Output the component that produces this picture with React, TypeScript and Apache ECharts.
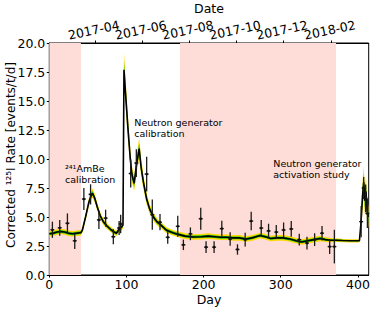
import React, { useEffect, useRef } from "react";
import * as echarts from "echarts";

// Model curve (day, rate, 1-sigma band half-width)
const modelDay = [0, 5, 10, 15, 20, 25, 30, 35, 41, 43, 47, 51, 54, 56, 59, 62, 66, 70, 75, 80, 84, 87, 90, 92, 94.5, 95.5, 96.8, 99, 102, 105, 107, 110, 113, 116.5, 119, 122, 126, 130, 135, 140, 143, 152, 160, 167, 176, 186, 197, 206, 214, 222, 230, 238, 246, 255, 263, 268, 273, 280, 287, 295, 303, 312, 320, 327, 335, 343, 351, 358, 364, 372, 380, 390, 402, 404, 406, 407.5, 409, 410.5, 412, 413.5];
const modelRate = [3.55, 3.6, 3.7, 3.75, 3.7, 3.6, 3.55, 3.6, 3.65, 3.9, 5.0, 6.2, 6.8, 7.05, 6.6, 5.9, 5.1, 4.6, 4.2, 3.9, 3.7, 3.6, 3.9, 4.05, 4.2, 4.3, 17.7, 15.5, 12.6, 10.0, 8.7, 7.9, 9.5, 10.9, 9.3, 8.0, 6.6, 5.7, 5.0, 4.55, 4.4, 3.85, 3.65, 3.5, 3.35, 3.28, 3.3, 3.35, 3.3, 3.25, 3.25, 3.2, 3.2, 3.1, 3.2, 3.3, 3.4, 3.3, 3.15, 3.2, 3.2, 3.1, 2.95, 2.85, 2.95, 3.05, 3.15, 3.05, 3.0, 3.0, 2.97, 2.95, 2.95, 4.5, 6.8, 8.0, 6.4, 7.2, 5.5, 5.0];
const modelSigma = [0.12, 0.12, 0.12, 0.12, 0.12, 0.12, 0.12, 0.12, 0.12, 0.13, 0.15, 0.18, 0.2, 0.2, 0.19, 0.17, 0.15, 0.14, 0.13, 0.12, 0.12, 0.12, 0.13, 0.14, 0.14, 0.16, 0.75, 0.6, 0.5, 0.4, 0.35, 0.32, 0.38, 0.45, 0.38, 0.3, 0.25, 0.2, 0.17, 0.15, 0.14, 0.13, 0.12, 0.12, 0.12, 0.12, 0.12, 0.12, 0.12, 0.12, 0.12, 0.12, 0.12, 0.12, 0.12, 0.12, 0.12, 0.12, 0.12, 0.12, 0.12, 0.12, 0.12, 0.12, 0.12, 0.12, 0.12, 0.1, 0.09, 0.08, 0.07, 0.07, 0.07, 0.3, 0.6, 0.7, 0.6, 0.65, 0.5, 0.45];

// Measured points: day, rate, error
const pointDay = [4, 13.5, 23.5, 33, 44.8, 53.5, 64.3, 73, 83, 90.5, 92.5, 105.5, 112.8, 126.2, 133.5, 143.5, 153.5, 166.5, 173.8, 182.9, 196.3, 203.2, 213.6, 223.6, 234.4, 243.9, 253.9, 261.7, 274.7, 284.2, 294.2, 303.7, 313.6, 324, 334, 343.9, 353.5, 363.4, 369.5, 404.2, 407.5, 410, 412.3];
const pointRate = [3.9, 4.07, 4.46, 2.95, 6.55, 6.95, 4.75, 4.9, 3.3, 4.05, 4.4, 8.75, 9.65, 8.7, 5.2, 4.55, 3.25, 4.2, 2.6, 3.55, 4.85, 2.4, 2.4, 4.0, 3.1, 2.2, 3.05, 4.65, 4.05, 3.8, 3.7, 3.88, 3.97, 3.05, 2.75, 3.05, 3.6, 2.45, 2.45, 4.6, 7.5, 6.6, 5.3];
const pointErr = [0.7, 0.68, 0.85, 0.7, 0.95, 0.87, 0.78, 0.73, 0.65, 0.6, 0.8, 1.2, 1.2, 1.5, 1.3, 0.7, 0.55, 0.9, 0.45, 0.55, 0.95, 0.5, 0.5, 0.68, 0.58, 0.45, 0.6, 0.8, 0.7, 0.62, 0.6, 0.65, 0.68, 0.5, 0.55, 0.55, 0.63, 0.65, 1.45, 1.35, 0.95, 1.2, 1.25];

// Shaded calibration periods (days)
const shadedRanges = [[0, 41], [169.5, 371.7]];

// Axis ticks
const dayTicks = [0, 100, 200, 300, 400];
const dateTickDays = [59, 120, 181, 242, 303, 365];
const dateLabels = ["2017-04", "2017-06", "2017-08", "2017-10", "2017-12", "2018-02"];

const FONT = "DejaVu Sans";

export default function App() {
  const ref = useRef<HTMLDivElement>(null);
  useEffect(() => {
    if (!ref.current) return;
    const chart = echarts.init(ref.current, null, { renderer: "svg" });

    const bandPoly = (k: number) => (params: any, api: any) => {
      if (params.dataIndex !== 0) return null;
      const upper: number[][] = [];
      const lower: number[][] = [];
      for (let i = 0; i < modelDay.length; i++) {
        upper.push(api.coord([modelDay[i], modelRate[i] + k * modelSigma[i]]));
        lower.push(api.coord([modelDay[i], modelRate[i] - k * modelSigma[i]]));
      }
      return {
        type: "polygon",
        shape: { points: upper.concat(lower.reverse()) },
        style: { fill: k === 2 ? "#ffd800" : "#19c419" },
      };
    };

    const axisLineStyle = { color: "#000", width: 1 };
    const txt = { fontSize: 9.5, lineHeight: 11, fontFamily: FONT, fill: "#000", align: "left", verticalAlign: "top" };

    const baseGraphic: any[] = [
      {
        id: "ylabel",
        type: "text",
        z: 100,
        x: 11,
        y: 155,
        rotation: Math.PI / 2,
        style: { text: "Corrected ¹²⁵I Rate [events/t/d]", fontSize: 12, fontFamily: FONT, fill: "#000", align: "center", verticalAlign: "middle" },
      },
      { id: "ann1", type: "text", z: 100, x: 65, y: 162.5, style: { ...txt, text: "²⁴¹AmBe\ncalibration" } },
      { id: "ann2", type: "text", z: 100, x: 134.3, y: 116.8, style: { ...txt, text: "Neutron generator\ncalibration" } },
      { id: "ann3", type: "text", z: 100, x: 273.3, y: 157.8, style: { ...txt, text: "Neutron generator\nactivation study" } },
    ];

    chart.setOption({
      animation: false,
      textStyle: { fontFamily: FONT },
      grid: {
        left: 49.3, right: 5.3, top: 43, bottom: 34,
        outerBoundsMode: "none", containLabel: false,
        show: true, borderColor: "#000", borderWidth: 1, backgroundColor: "transparent",
      },
      xAxis: [
        {
          type: "value",
          min: 0,
          max: 414,
          position: "bottom",
          name: "Day",
          nameLocation: "middle",
          nameGap: 18,
          nameMoveOverlap: false,
          nameTextStyle: { fontSize: 12.5, color: "#000", fontFamily: FONT },
          splitLine: { show: false },
          axisLine: { show: true, lineStyle: axisLineStyle },
          axisTick: { show: true, length: 2.5, customValues: dayTicks, lineStyle: axisLineStyle },
          axisLabel: { customValues: dayTicks, hideOverlap: false, fontSize: 12.5, color: "#000", margin: 3, fontFamily: FONT },
        },
        {
          type: "value",
          min: 0,
          max: 414,
          position: "top",
          name: "Date",
          nameLocation: "middle",
          nameGap: 28,
          nameMoveOverlap: false,
          nameTextStyle: { fontSize: 12.5, color: "#000", fontFamily: FONT },
          splitLine: { show: false },
          axisLine: { show: true, lineStyle: axisLineStyle },
          axisTick: { show: true, length: 2.5, customValues: dateTickDays, lineStyle: axisLineStyle },
          axisLabel: { show: false },
        },
      ],
      yAxis: {
        type: "value",
        min: 0,
        max: 20,
        interval: 2.5,
        splitLine: { show: false },
        axisLine: { show: true, lineStyle: axisLineStyle },
        axisTick: { show: true, length: 2.5, lineStyle: axisLineStyle },
        axisLabel: { fontSize: 12.5, color: "#000", margin: 4, fontFamily: FONT, formatter: (v: number) => v.toFixed(1) },
      },
      graphic: baseGraphic,
      series: [
        {
          type: "line",
          z: 1,
          silent: true,
          data: [],
          markArea: {
            silent: true,
            itemStyle: { color: "#fedcd7" },
            data: shadedRanges.map(([a, b]) => [{ xAxis: a }, { xAxis: b }]),
          },
        },
        {
          type: "custom",
          z: 2,
          silent: true,
          renderItem: bandPoly(2),
          data: [[modelDay[0], modelRate[0]]],
          encode: { x: 0, y: 1 },
        },
        {
          type: "custom",
          z: 3,
          silent: true,
          renderItem: bandPoly(1),
          data: [[modelDay[0], modelRate[0]]],
          encode: { x: 0, y: 1 },
        },
        {
          type: "line",
          z: 4,
          silent: true,
          symbol: "none",
          showSymbol: false,
          lineStyle: { color: "#000", width: 1.6 },
          data: modelDay.map((d, i) => [d, modelRate[i]]),
        },
        {
          type: "custom",
          z: 5,
          silent: true,
          data: pointDay.map((d, i) => [d, pointRate[i], pointRate[i] - pointErr[i], pointRate[i] + pointErr[i]]),
          encode: { x: 0, y: [1, 2, 3] },
          renderItem: (params: any, api: any) => {
            const x = api.value(0);
            const c = api.coord([x, api.value(1)]);
            const lo = api.coord([x, api.value(2)]);
            const hi = api.coord([x, api.value(3)]);
            const st = { stroke: "#1c1c1c", lineWidth: 1.3 };
            return {
              type: "group",
              children: [
                { type: "line", shape: { x1: c[0], y1: hi[1], x2: c[0], y2: lo[1] }, style: st },
                { type: "line", shape: { x1: c[0] - 2, y1: c[1], x2: c[0] + 2, y2: c[1] }, style: st },
                { type: "circle", shape: { cx: c[0], cy: c[1], r: 1.3 }, style: { fill: "#111" } },
              ],
            };
          },
        },
      ],
    });

    // Top date tick labels, placed through the top axis' scale
    const dateGraphic = dateTickDays.map((d, i) => {
      const px = chart.convertToPixel({ xAxisIndex: 1 }, d) as number;
      return {
        id: "date" + i,
        type: "text",
        z: 100,
        x: px - 1,
        y: 30,
        rotation: (12 * Math.PI) / 180,
        style: { text: dateLabels[i], fontSize: 12.5, fontFamily: FONT, fill: "#000", align: "center", verticalAlign: "middle" },
      };
    });
    chart.setOption({ graphic: baseGraphic.concat(dateGraphic) });

    return () => chart.dispose();
  }, []);
  return <div ref={ref} style={{ width: 374, height: 309, position: "absolute", left: 0, top: 0 }} />;
}
